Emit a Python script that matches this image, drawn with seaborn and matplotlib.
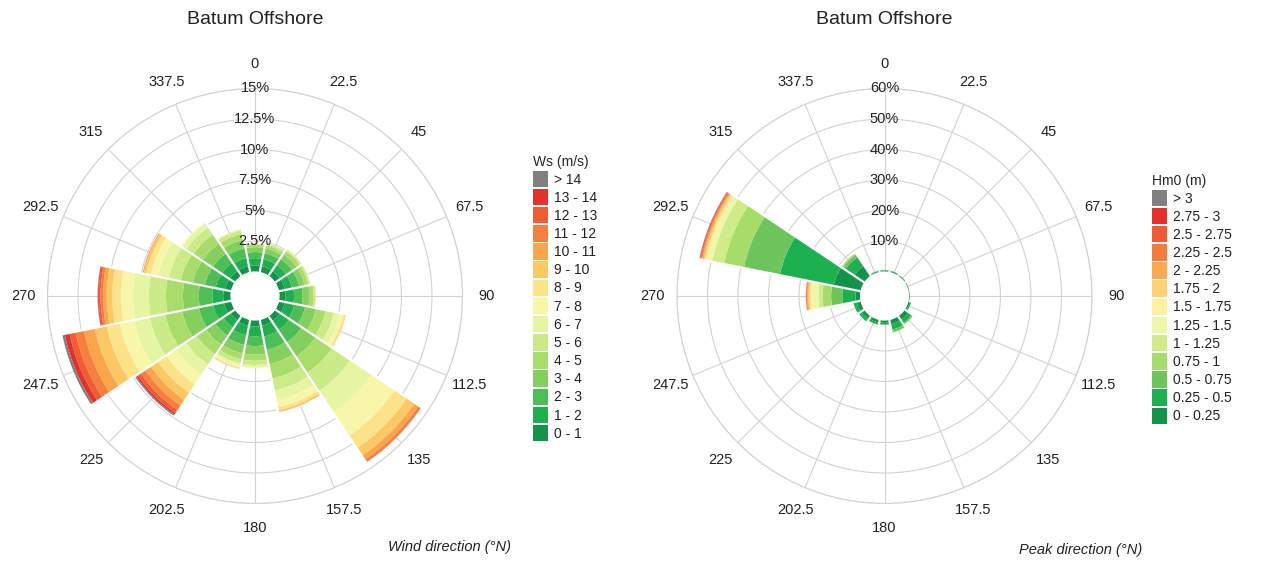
import numpy as np
import pandas as pd
import matplotlib
matplotlib.use("Agg")
import matplotlib.pyplot as plt
from matplotlib.patches import Patch
import seaborn as sns

# ---------------------------------------------------------------------------
# DATA  (frequency in %, classes listed from the inside of the rose outwards)
# ---------------------------------------------------------------------------
directions = [0, 22.5, 45, 67.5, 90, 112.5, 135, 157.5,
              180, 202.5, 225, 247.5, 270, 292.5, 315, 337.5]
dir_labels = ["0", "22.5", "45", "67.5", "90", "112.5", "135", "157.5",
              "180", "202.5", "225", "247.5", "270", "292.5", "315", "337.5"]

ws_classes = ["0 - 1", "1 - 2", "2 - 3", "3 - 4", "4 - 5", "5 - 6", "6 - 7", "7 - 8",
              "8 - 9", "9 - 10", "10 - 11", "11 - 12", "12 - 13", "13 - 14", "> 14"]
ws_colors = ["#15934a", "#1fae50", "#4dbd55", "#84cf5f", "#a9dd6b", "#cbea88", "#e6f5a4",
             "#f8f6a8", "#fce38a", "#fcc865", "#f9a54c", "#f5803d", "#f05c34", "#e3312b",
             "#808080"]

ws_000 = [0.5, 0.6, 0.5, 0.4, 0.2, 0.1]
ws_022 = [0.5, 0.6, 0.5, 0.4, 0.25, 0.15]
ws_045 = [0.5, 0.6, 0.6, 0.45, 0.3, 0.15, 0.05]
ws_067 = [0.5, 0.6, 0.6, 0.45, 0.3, 0.15, 0.05]
ws_090 = [0.5, 0.7, 0.7, 0.55, 0.35, 0.15, 0.05]
ws_112 = [0.5, 0.8, 0.9, 0.9, 0.8, 0.7, 0.5, 0.3, 0.15, 0.05]
ws_135 = [0.5, 0.9, 1.2, 1.4, 1.6, 1.8, 2.1, 2.3, 1.2, 0.75, 0.4, 0.2, 0.05]
ws_157 = [0.5, 0.9, 1.1, 1.2, 1.2, 1.0, 0.8, 0.6, 0.25, 0.1, 0.05]
ws_180 = [0.5, 0.8, 0.8, 0.7, 0.5, 0.35, 0.2, 0.05]
ws_202 = [0.5, 0.8, 0.8, 0.7, 0.5, 0.35, 0.2, 0.1, 0.1, 0.05]
ws_225 = [0.45, 0.7, 0.8, 0.9, 0.95, 1.0, 1.0, 0.95, 0.85, 0.7, 0.55, 0.45, 0.3, 0.15, 0.1]
ws_247 = [0.6, 0.9, 1.2, 1.4, 1.4, 1.3, 1.3, 1.2, 1.1, 1.0, 0.9, 0.7, 0.5, 0.4, 0.2]
ws_270 = [0.6, 0.9, 1.1, 1.3, 1.4, 1.4, 1.3, 1.0, 0.7, 0.45, 0.3, 0.2, 0.15, 0.07, 0.03]
ws_292 = [0.5, 0.8, 0.9, 1.0, 1.0, 1.0, 0.9, 0.6, 0.4, 0.2, 0.1]
ws_315 = [0.5, 0.8, 0.9, 1.0, 0.9, 0.7, 0.4, 0.1]
ws_337 = [0.5, 0.7, 0.8, 0.7, 0.5, 0.3, 0.1]

hm_classes = ["0 - 0.25", "0.25 - 0.5", "0.5 - 0.75", "0.75 - 1", "1 - 1.25", "1.25 - 1.5",
              "1.5 - 1.75", "1.75 - 2", "2 - 2.25", "2.25 - 2.5", "2.5 - 2.75", "2.75 - 3", "> 3"]
hm_colors = ["#13924a", "#1cb050", "#6cc45a", "#a6dc6a", "#cfec88", "#eef7a9", "#fdf0a0",
             "#fdd273", "#fba94f", "#f57b3c", "#f05a35", "#e8302a", "#808080"]

hm_000 = [0.3, 0.2]
hm_022 = [0.3, 0.2]
hm_045 = [0.3, 0.1]
hm_067 = [0.2, 0.1]
hm_090 = [0.2, 0.1]
hm_112 = [0.5, 0.4]
hm_135 = [1.5, 1.3, 0.5]
hm_157 = [1.5, 1.8, 0.9]
hm_180 = [0.8, 0.6]
hm_202 = [0.9, 0.7]
hm_225 = [1.2, 1.0]
hm_247 = [1.3, 1.1]
hm_270 = [1.5, 4.3, 3.7, 2.8, 1.4, 1.8, 0.9, 0.6, 0.4, 0.2, 0.1, 0.1]
hm_292 = [9.0, 18.0, 12.0, 6.6, 4.0, 1.3, 1.0, 0.6, 0.5, 0.3, 0.3, 0.2, 0.1]
hm_315 = [4.0, 3.5, 1.0, 0.5]
hm_337 = [0.3, 0.2]

ws_ticks = [2.5, 5, 7.5, 10, 12.5, 15]
hm_ticks = [10, 20, 30, 40, 50, 60]

ws_rows = [ws_000, ws_022, ws_045, ws_067, ws_090, ws_112, ws_135, ws_157,
           ws_180, ws_202, ws_225, ws_247, ws_270, ws_292, ws_315, ws_337]
hm_rows = [hm_000, hm_022, hm_045, hm_067, hm_090, hm_112, hm_135, hm_157,
           hm_180, hm_202, hm_225, hm_247, hm_270, hm_292, hm_315, hm_337]


def to_long(rows, classes):
    recs = []
    for d, vals in zip(directions, rows):
        for i, c in enumerate(classes):
            v = vals[i] if i < len(vals) else 0.0
            recs.append({"theta": np.deg2rad(d), "cls": c, "freq": v})
    return pd.DataFrame(recs)


# ---------------------------------------------------------------------------
# STYLE
# ---------------------------------------------------------------------------
sns.set_theme(style="white")
plt.rcParams["font.family"] = ["Liberation Sans", "DejaVu Sans"]
TXT = "#222222"
GRID = "#d2d2d2"

fig = plt.figure(figsize=(12.63, 5.61), dpi=100)
sector = 2 * np.pi / len(directions)


def draw_rose(rect, rows, classes, colors, ticks, rmax, origin, title, xlabel, xlab_pos,
              leg_title, leg_pos):
    ax = fig.add_axes(rect, projection="polar")
    df = to_long(rows, classes)
    sns.histplot(data=df, x="theta", weights="freq", hue="cls",
                 hue_order=classes[::-1], palette=colors[::-1],
                 multiple="stack", binwidth=sector,
                 binrange=(-sector / 2, 2 * np.pi - sector / 2),
                 linewidth=0, alpha=1, legend=False, ax=ax)
    ax.set_theta_zero_location("N")
    ax.set_theta_direction(-1)
    ax.set_xlim(0, 2 * np.pi)
    ax.set_ylim(0, rmax)
    ax.set_rorigin(-origin)
    ax.set_xlabel("")
    ax.set_ylabel("")

    # white separators between the direction sectors
    totals = [sum(v) for v in rows]
    for k, d in enumerate(directions):
        a = np.deg2rad(d + 11.25)
        top = max(totals[k], totals[(k + 1) % len(totals)])
        ax.plot([a, a], [0, top * 1.01], color="white", lw=1.6, zorder=3,
                solid_capstyle="butt")

    ax.set_xticks(np.deg2rad(directions))
    ax.set_xticklabels(dir_labels)
    ax.tick_params(axis="x", pad=10.5, length=0, labelsize=10.5, labelcolor=TXT)
    ax.tick_params(axis="y", length=0)
    ax.set_yticks(ticks)
    ax.set_yticklabels([])
    ax.grid(True, color=GRID, lw=0.8)
    ax.spines["polar"].set_color(GRID)
    ax.spines["polar"].set_linewidth(0.8)
    ax.spines["inner"].set_color("none")
    ax.spines["inner"].set_linewidth(0)
    for t in ticks:
        ax.text(0, t, f"{t:g}%", ha="center", va="center", fontsize=10.5,
                color=TXT, zorder=6)

    cx = rect[0] + rect[2] / 2
    fig.text(cx, 1 - 19 / 561, title, ha="center", va="center", fontsize=14, color=TXT)
    fig.text(xlab_pos[0], xlab_pos[1], xlabel, ha="center", va="center",
             fontsize=10.5, style="italic", color=TXT)

    handles = [Patch(facecolor=c, edgecolor="none") for c in colors[::-1]]
    fig.legend(handles, classes[::-1], title=leg_title, loc="upper left",
               bbox_to_anchor=leg_pos, frameon=False, fontsize=10,
               title_fontsize=10, handlelength=1.05, handleheight=1.45,
               labelspacing=0.12, handletextpad=0.45, borderpad=0,
               borderaxespad=0, alignment="left", labelcolor=TXT)
    return ax


draw_rose([47.5 / 1263, 57.5 / 561, 415 / 1263, 415 / 561], ws_rows, ws_classes,
          ws_colors, ws_ticks, 15, 2.0, "Batum Offshore", "Wind direction (°N)",
          (450 / 1263, 1 - 547 / 561), "Ws (m/s)", (533 / 1263, 1 - 155 / 561))

draw_rose([677 / 1263, 57.5 / 561, 415 / 1263, 415 / 561], hm_rows, hm_classes,
          hm_colors, hm_ticks, 60, 8.0, "Batum Offshore", "Peak direction (°N)",
          (1081 / 1263, 1 - 550 / 561), "Hm0 (m)", (1152 / 1263, 1 - 174 / 561))

fig.savefig("out.png", dpi=100)
